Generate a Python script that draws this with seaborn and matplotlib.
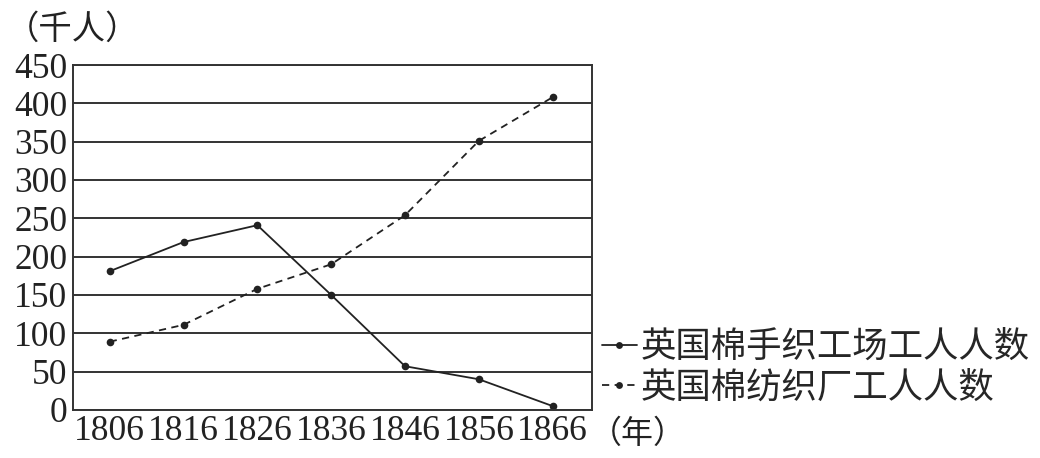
import matplotlib
matplotlib.use("Agg")
import matplotlib.pyplot as plt
import seaborn as sns
import pandas as pd

# --- data ---
years = [1806, 1816, 1826, 1836, 1846, 1856, 1866]
hand_weavers = [181, 219, 241, 150, 57, 40, 5]      # 英国棉手织工场工人人数
mill_workers = [89, 111, 158, 190, 254, 351, 408]   # 英国棉纺织厂工人人数
label_hand = "英国棉手织工场工人人数"
label_mill = "英国棉纺织厂工人人数"
y_ticks = [0, 50, 100, 150, 200, 250, 300, 350, 400, 450]

df = pd.DataFrame({"year": years, "hand": hand_weavers, "mill": mill_workers})

sns.set_style("white")
fams = ["Liberation Serif", "Noto Sans CJK SC"]
plt.rcParams["font.family"] = fams

fig = plt.figure(figsize=(10.4, 4.58), dpi=100)
ax = fig.add_axes([0.070, 0.105, 0.499, 0.753])

sns.lineplot(data=df, x="year", y="hand", ax=ax, color="#222222", lw=1.3,
             marker="o", markersize=5.5, markeredgewidth=0, label=label_hand)
sns.lineplot(data=df, x="year", y="mill", ax=ax, color="#222222", lw=1.3,
             linestyle=(0, (4, 3)), marker="o", markersize=5.5, markeredgewidth=0,
             label=label_mill)

ax.set_xlim(1801, 1871.3)
ax.set_ylim(0, 450)
ax.set_yticks(y_ticks)
ax.set_xticks(years)
ax.set_xticklabels([str(y) for y in years], fontsize=25.5)
ax.set_yticklabels([str(v) for v in y_ticks], fontsize=25.5)
ax.yaxis.grid(True, color="#333333", lw=1.4)
ax.set_xlabel("")
ax.set_ylabel("")
ax.tick_params(axis="x", direction="in", length=6, width=1.2, pad=4, colors="#222222")
ax.tick_params(axis="y", length=0, pad=4, colors="#222222")
for s in ax.spines.values():
    s.set_color("#333333")
    s.set_linewidth(1.4)

# legend outside the plot, on the right
handles, labels = ax.get_legend_handles_labels()
ax.get_legend().remove()
fig.legend(handles, labels, loc="center left", bbox_to_anchor=(0.5615, 0.195),
           frameon=False, fontsize=25.5, handlelength=1.0, handletextpad=0.1,
           labelspacing=0.2, borderpad=0, markerscale=0.9)

fig.text(0.006, 0.935, "（千人）", fontsize=24, family=["Noto Sans CJK SC"],
         va="center", ha="left", color="#222222")
fig.text(0.567, 0.052, "（年）", fontsize=23, family=["Noto Sans CJK SC"],
         va="center", ha="left", color="#222222")

fig.savefig("out.png", dpi=100)
